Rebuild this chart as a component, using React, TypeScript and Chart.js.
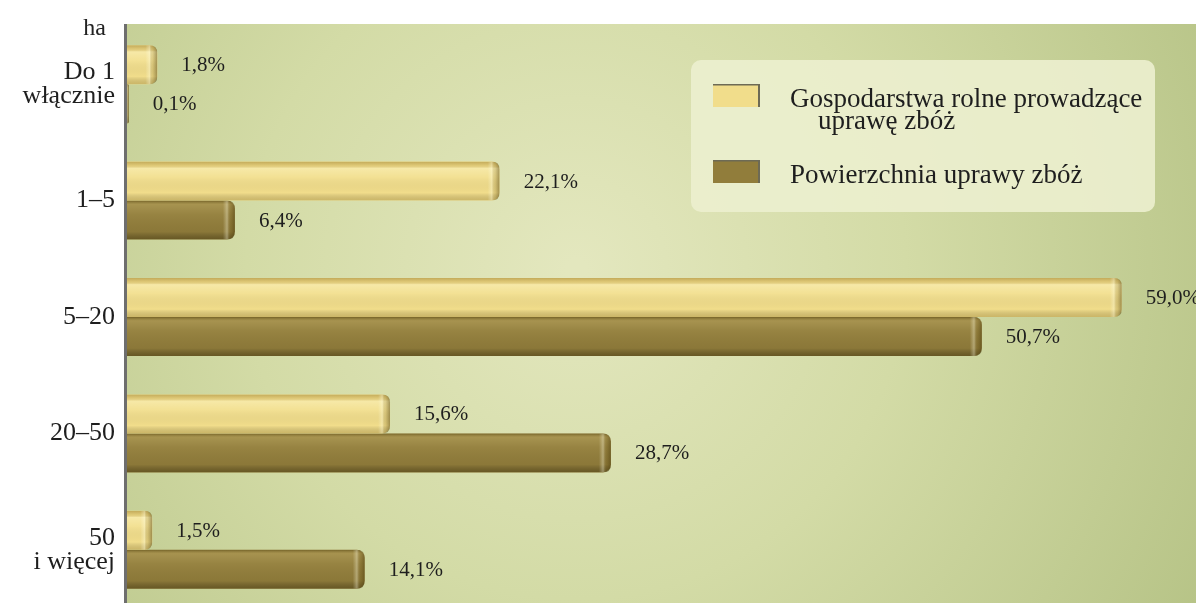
import React, { useEffect, useRef } from "react";
import { Chart, registerables } from "chart.js";

Chart.register(...registerables);

const categories: (string | string[])[] = [["Do 1", "włącznie"], "1–5", "5–20", "20–50", ["50", "i więcej"]];
const farmsShare = [1.8, 22.1, 59.0, 15.6, 1.5];
const areaShare = [0.1, 6.4, 50.7, 28.7, 14.1];
const seriesNames = ["Gospodarstwa rolne prowadzące uprawę zbóż", "Powierzchnia uprawy zbóż"];
const legendLines = [["Gospodarstwa rolne prowadzące", "uprawę zbóż"], ["Powierzchnia uprawy zbóż"]];
const unitLabel = "ha";
const xMax = 63.4;

const SERIF = "'Liberation Serif', 'Times New Roman', serif";
const LIGHT = "#F1DD8B";
const DARK = "#917D3B";

const fmt = (v: number) => v.toFixed(1).replace(".", ",") + "%";

function roundRightPath(ctx: CanvasRenderingContext2D, l: number, t: number, r: number, b: number, rad: number) {
  const w = r - l;
  const h = b - t;
  const rr = Math.max(0, Math.min(rad, w, h / 2));
  ctx.beginPath();
  ctx.moveTo(l, t);
  ctx.lineTo(r - rr, t);
  ctx.quadraticCurveTo(r, t, r, t + rr);
  ctx.lineTo(r, b - rr);
  ctx.quadraticCurveTo(r, b, r - rr, b);
  ctx.lineTo(l, b);
  ctx.closePath();
}

const backgroundPlugin = {
  id: "bgPlugin",
  beforeDraw(chart: any) {
    const { ctx, chartArea } = chart;
    const { left, right, bottom } = chartArea;
    const top = chartArea.top - 2;
    ctx.save();
    ctx.fillStyle = "#ffffff";
    ctx.fillRect(0, 0, chart.width, chart.height);
    const cx = left + (right - left) * 0.42;
    const cy = top + (bottom - top) * 0.42;
    const g = ctx.createRadialGradient(cx, cy, 10, cx, cy, 720);
    g.addColorStop(0, "#E3E7BE");
    g.addColorStop(0.45, "#D3DBA6");
    g.addColorStop(1, "#B6C386");
    ctx.fillStyle = g;
    ctx.fillRect(left, top, right - left, bottom - top);
    ctx.strokeStyle = "#6E6E6E";
    ctx.lineWidth = 3;
    ctx.beginPath();
    ctx.moveTo(left - 1.5, top);
    ctx.lineTo(left - 1.5, bottom);
    ctx.stroke();
    ctx.fillStyle = "#222";
    ctx.font = `24px ${SERIF}`;
    ctx.textAlign = "right";
    ctx.textBaseline = "alphabetic";
    ctx.fillText(unitLabel, 106, 35);
    ctx.restore();
  },
};

const shadePlugin = {
  id: "shadePlugin",
  afterDatasetsDraw(chart: any) {
    const { ctx } = chart;
    chart.data.datasets.forEach((ds: any, di: number) => {
      const meta = chart.getDatasetMeta(di);
      meta.data.forEach((el: any) => {
        const p = el.getProps(["x", "y", "base", "height"], true);
        const l = Math.min(p.base, p.x);
        const r = Math.max(p.base, p.x);
        const t = p.y - p.height / 2;
        const b = p.y + p.height / 2;
        ctx.save();
        roundRightPath(ctx, l, t, r, b, 8);
        ctx.clip();
        const g = ctx.createLinearGradient(0, t, 0, b);
        if (di === 0) {
          g.addColorStop(0, "rgba(150,120,40,0.5)");
          g.addColorStop(0.1, "rgba(150,120,40,0.2)");
          g.addColorStop(0.17, "rgba(255,250,210,0.4)");
          g.addColorStop(0.4, "rgba(255,250,210,0.12)");
          g.addColorStop(0.8, "rgba(0,0,0,0)");
          g.addColorStop(1, "rgba(120,95,20,0.3)");
        } else {
          g.addColorStop(0, "rgba(60,45,0,0.35)");
          g.addColorStop(0.1, "rgba(255,235,160,0.2)");
          g.addColorStop(0.35, "rgba(255,240,180,0.06)");
          g.addColorStop(0.8, "rgba(0,0,0,0.04)");
          g.addColorStop(1, "rgba(40,30,0,0.4)");
        }
        ctx.fillStyle = g;
        ctx.fillRect(l, t, r - l, b - t);
        const capW = Math.min(12, r - l);
        const hg = ctx.createLinearGradient(r - capW, 0, r, 0);
        hg.addColorStop(0, "rgba(255,255,230,0)");
        hg.addColorStop(0.35, "rgba(255,255,230,0.35)");
        hg.addColorStop(0.6, "rgba(90,70,10,0.15)");
        hg.addColorStop(1, "rgba(60,45,0,0.45)");
        ctx.fillStyle = hg;
        ctx.fillRect(r - capW, t, capW, b - t);
        ctx.restore();
      });
    });
  },
};

const labelPlugin = {
  id: "labelPlugin",
  afterDatasetsDraw(chart: any) {
    const { ctx } = chart;
    ctx.save();
    ctx.font = `21px ${SERIF}`;
    ctx.fillStyle = "#1e1e1e";
    ctx.textAlign = "left";
    ctx.textBaseline = "middle";
    chart.data.datasets.forEach((ds: any, di: number) => {
      const meta = chart.getDatasetMeta(di);
      meta.data.forEach((el: any, i: number) => {
        const p = el.getProps(["x", "y"], true);
        ctx.fillText(fmt(ds.data[i]), p.x + 24, p.y + 1);
      });
    });
    ctx.restore();
  },
};

const legendPlugin = {
  id: "legendBox",
  afterDraw(chart: any) {
    const { ctx } = chart;
    ctx.save();
    ctx.fillStyle = "rgba(236,239,206,0.92)";
    ctx.beginPath();
    (ctx as any).roundRect(691, 60, 464, 152, 10);
    ctx.fill();
    const rows = [
      { y: 84, color: LIGHT, edge: "#6d6a55" },
      { y: 160, color: DARK, edge: "#6d6a55" },
    ];
    rows.forEach((row) => {
      ctx.fillStyle = row.color;
      ctx.fillRect(713, row.y, 47, 23);
      ctx.fillStyle = row.edge;
      ctx.fillRect(758, row.y, 2, 23);
      ctx.fillRect(713, row.y, 47, 1.5);
    });
    ctx.fillStyle = "#1e1e1e";
    ctx.font = `27px ${SERIF}`;
    ctx.textAlign = "left";
    ctx.textBaseline = "alphabetic";
    ctx.fillText(legendLines[0][0], 790, 107);
    ctx.fillText(legendLines[0][1], 818, 129);
    ctx.fillText(legendLines[1][0], 790, 183);
    ctx.restore();
  },
};

export default function App() {
  const ref = useRef<HTMLCanvasElement | null>(null);
  useEffect(() => {
    if (!ref.current) return;
    const chart = new Chart(ref.current, {
      type: "bar",
      data: {
        labels: categories as any,
        datasets: [
          {
            label: seriesNames[0],
            data: farmsShare,
            backgroundColor: LIGHT,
            borderWidth: 0,
            borderRadius: 8,
            borderSkipped: "start",
            barPercentage: 1,
            categoryPercentage: 0.67,
          },
          {
            label: seriesNames[1],
            data: areaShare,
            backgroundColor: DARK,
            borderWidth: 0,
            borderRadius: 8,
            borderSkipped: "start",
            barPercentage: 1,
            categoryPercentage: 0.67,
          },
        ],
      },
      options: {
        indexAxis: "y",
        responsive: false,
        animation: false,
        layout: { padding: { top: 26, right: 0, bottom: 0, left: 0 } },
        plugins: {
          legend: { display: false },
          tooltip: { enabled: false },
          title: { display: false },
        },
        scales: {
          x: {
            min: 0,
            max: xMax,
            display: false,
            grid: { display: false },
          },
          y: {
            grid: { display: false, drawTicks: false },
            border: { display: false },
            ticks: {
              color: "#1e1e1e",
              padding: 12,
              font: { family: SERIF, size: 26, lineHeight: 0.92 },
            },
            afterFit(scale: any) {
              scale.width = 127;
              scale.paddingTop = 0;
              scale.paddingBottom = 0;
            },
          },
        },
      },
      plugins: [backgroundPlugin, shadePlugin, labelPlugin, legendPlugin],
    });
    return () => chart.destroy();
  }, []);
  return (
    <div style={{ position: "fixed", left: 0, top: 0, width: 1196, height: 603, overflow: "hidden", background: "#fff" }}>
      <canvas ref={ref} width={1196} height={608} style={{ display: "block" }} />
    </div>
  );
}
